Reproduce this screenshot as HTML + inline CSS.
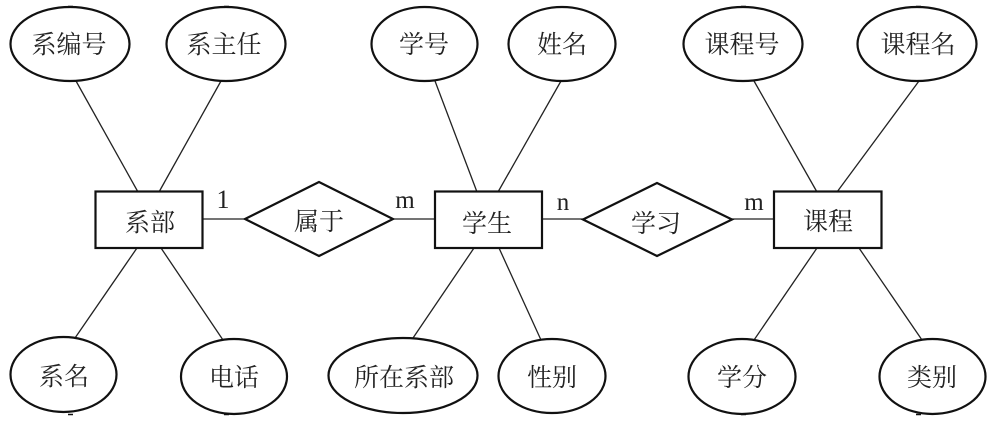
<!DOCTYPE html>
<html>
<head>
<meta charset="utf-8">
<style>
html,body{margin:0;padding:0;background:#fff;width:998px;height:426px;overflow:hidden}
svg{display:block}
text{font-family:"Liberation Serif","Noto Serif CJK SC",serif;font-size:25px;fill:#222;text-anchor:middle}
.s{fill:#fff;stroke:#111;stroke-width:2.2}
.l{stroke:#222;stroke-width:1.3;fill:none}
.m{stroke:#111;stroke-width:1.5;fill:none}
</style>
</head>
<body>
<svg width="998" height="426" viewBox="0 0 998 426" xmlns="http://www.w3.org/2000/svg">
<g class="l">
<line x1="76" y1="81" x2="138" y2="192"/>
<line x1="221" y1="81" x2="159" y2="192"/>
<line x1="137" y1="248" x2="75" y2="338"/>
<line x1="161" y1="248" x2="223" y2="340"/>
<line x1="202" y1="219" x2="245" y2="219"/>
<line x1="393" y1="219" x2="435" y2="219"/>
<line x1="435" y1="81" x2="477" y2="192"/>
<line x1="561" y1="81" x2="498" y2="192"/>
<line x1="474" y1="248" x2="413" y2="338"/>
<line x1="499" y1="248" x2="541" y2="340"/>
<line x1="542" y1="219" x2="583" y2="219"/>
<line x1="732" y1="219" x2="774" y2="219"/>
<line x1="754" y1="81" x2="817" y2="192"/>
<line x1="919" y1="81" x2="837" y2="192"/>
<line x1="817" y1="248" x2="754" y2="340"/>
<line x1="859" y1="248" x2="922" y2="340"/>
</g>
<g class="m">
<line x1="68" y1="6.5" x2="73" y2="6.5"/>
<line x1="224" y1="6.5" x2="229" y2="6.5"/>
<line x1="741" y1="6.5" x2="746" y2="6.5"/>
<line x1="916" y1="6.5" x2="921" y2="6.5"/>
<line x1="68" y1="414.5" x2="73" y2="414.5"/>
<line x1="224" y1="414.5" x2="229" y2="414.5"/>
<line x1="741" y1="414.5" x2="746" y2="414.5"/>
<line x1="916" y1="414.5" x2="921" y2="414.5"/>
</g>
<ellipse class="s" cx="70" cy="44" rx="59.5" ry="37"/>
<ellipse class="s" cx="226" cy="44" rx="59.5" ry="37"/>
<ellipse class="s" cx="63.5" cy="374.5" rx="53" ry="37.5"/>
<ellipse class="s" cx="234" cy="376.5" rx="53" ry="37.5"/>
<ellipse class="s" cx="424.5" cy="44" rx="53" ry="37"/>
<ellipse class="s" cx="562" cy="44" rx="53.5" ry="37"/>
<ellipse class="s" cx="403" cy="375.5" rx="74.5" ry="37.5"/>
<ellipse class="s" cx="552" cy="376" rx="53.5" ry="37"/>
<ellipse class="s" cx="743" cy="44" rx="59.5" ry="37"/>
<ellipse class="s" cx="917" cy="44" rx="59.5" ry="37"/>
<ellipse class="s" cx="742" cy="376.5" rx="53.5" ry="37.5"/>
<ellipse class="s" cx="932.5" cy="376.5" rx="53" ry="37.5"/>
<rect class="s" x="95.5" y="191.5" width="107" height="56.5"/>
<rect class="s" x="435" y="191.5" width="107" height="56.5"/>
<rect class="s" x="774" y="191.5" width="107.5" height="56.5"/>
<polygon class="s" points="245,219 319,182 393,219 319,256"/>
<polygon class="s" points="583,219.5 657,183 732,219.5 657,256"/>
<text x="69" y="53">系编号</text>
<text x="224" y="53">系主任</text>
<text x="64" y="385">系名</text>
<text x="234" y="386">电话</text>
<text x="424" y="53">学号</text>
<text x="562" y="53">姓名</text>
<text x="404" y="386">所在系部</text>
<text x="552" y="386">性别</text>
<text x="742" y="53">课程号</text>
<text x="918" y="53">课程名</text>
<text x="742" y="386">学分</text>
<text x="932" y="386">类别</text>
<text x="150" y="231">系部</text>
<text x="487" y="232">学生</text>
<text x="828" y="230">课程</text>
<text x="319" y="230">属于</text>
<text x="656" y="232">学习</text>
<text x="223" y="208" style="font-size:26px">1</text>
<text x="405" y="208" style="font-size:25px">m</text>
<text x="563" y="210" style="font-size:25px">n</text>
<text x="754" y="210" style="font-size:25px">m</text>
</svg>
</body>
</html>
